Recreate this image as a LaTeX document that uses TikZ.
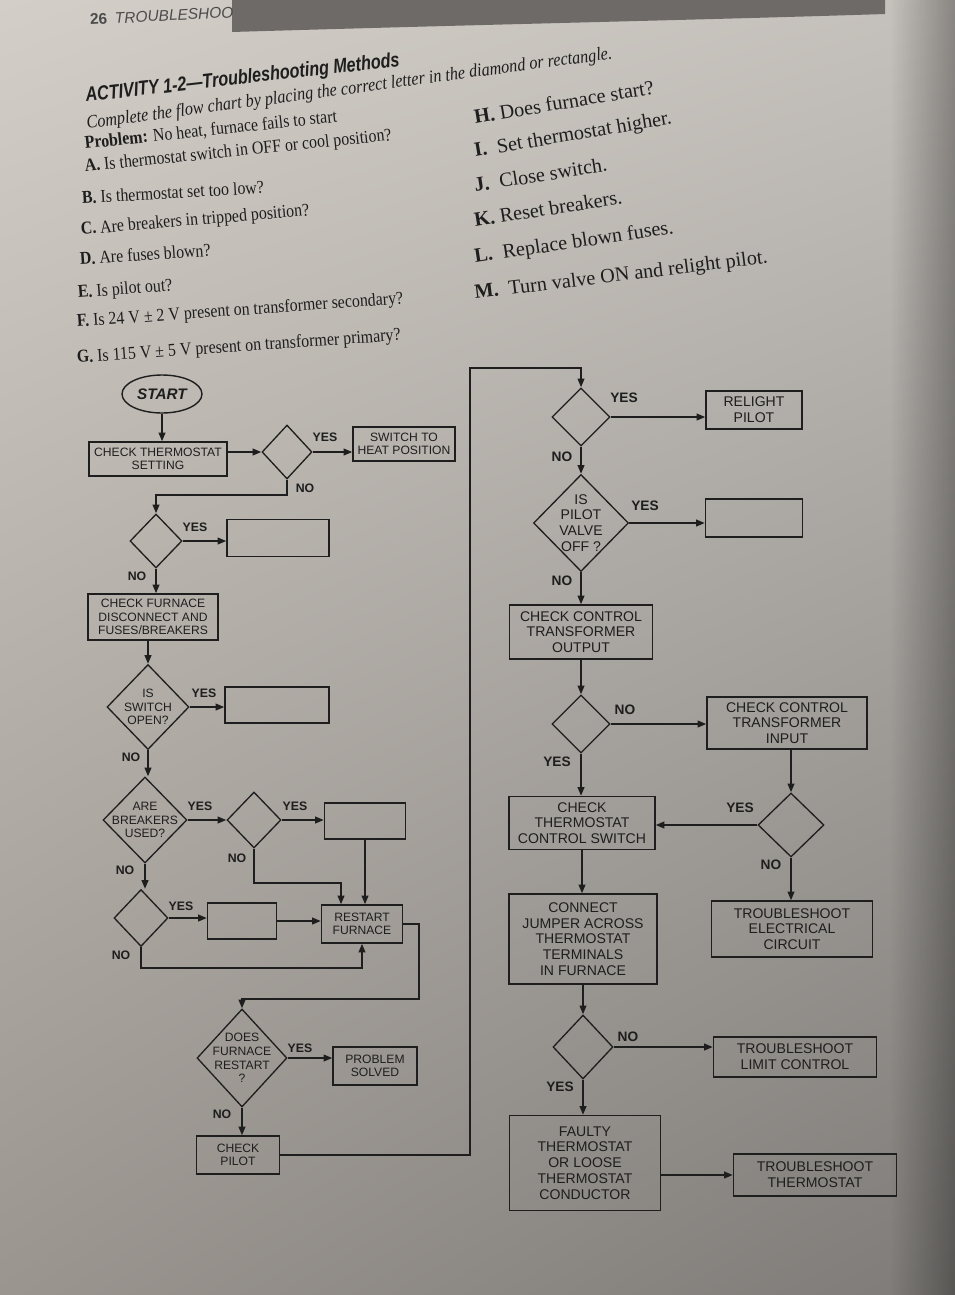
\documentclass[tikz,border=0pt]{standalone}
\usepackage{fontspec}
\setmainfont{Liberation Serif}
\setsansfont{Liberation Sans}
\newfontfamily\condserif[FakeStretch=0.88]{Liberation Serif}
\newfontfamily\titlesans[FakeStretch=0.8]{Liberation Sans}
\usetikzlibrary{shapes.geometric, arrows.meta, fadings, shadings}
\definecolor{ink}{HTML}{1E1E1E}
\definecolor{bgUL}{HTML}{D3CEC7}
\definecolor{bgUR}{HTML}{C4C0BB}
\definecolor{bgLL}{HTML}{9A958F}
\definecolor{bgLR}{HTML}{7E7B78}
\definecolor{band}{HTML}{6E6A67}
\newcommand{\lfont}{\fontsize{6.9}{7.7}\selectfont\sffamily}
\newcommand{\rfont}{\fontsize{8}{9}\selectfont\sffamily}
\tikzfading[name=myfadeR, left color=transparent!100, right color=transparent!0]
\begin{document}
\begin{tikzpicture}[x=0.02cm, y=-0.02cm,
  boxL/.style={draw=ink, line width=0.75pt, rectangle, inner sep=1pt, align=center, font=\lfont, text=ink},
  boxR/.style={draw=ink, line width=0.75pt, rectangle, inner sep=1pt, align=center, font=\rfont, text=ink},
  dia/.style={draw=ink, line width=0.75pt, diamond, inner sep=0pt},
  txtL/.style={font=\lfont, align=center, text=ink},
  txtR/.style={font=\rfont, align=center, text=ink},
  conn/.style={draw=ink, line width=1.1pt, -{Triangle[length=5pt,width=3.8pt]}},
  lblL/.style={font=\fontsize{7}{8}\selectfont\sffamily\bfseries, text=ink},
  lblR/.style={font=\fontsize{7.8}{9}\selectfont\sffamily\bfseries, text=ink},
  qL/.style={anchor=base west, font=\fontsize{10.3}{12}\selectfont\condserif, text=ink, inner sep=0pt},
  qR/.style={anchor=base west, font=\fontsize{11.5}{13}\selectfont\rmfamily, text=ink, inner sep=0pt}
]
\useasboundingbox (0,0) rectangle (955,1295);
% background
\shade[upper left=bgUL, upper right=bgUR, lower left=bgLL, lower right=bgLR] (0,0) rectangle (955,1295);
\fill[black, opacity=0.3, path fading=myfadeR] (890,0) rectangle (955,1295);
\fill[band] (232,0) -- (885,0) -- (885,14) .. controls (700,20) and (500,24) .. (232,32) -- cycle;

% header and texts
\node[anchor=base west, rotate=3, inner sep=0pt, text=ink!80, font=\fontsize{8.8}{10}\selectfont\sffamily] (hdr) at (90,25) {\textbf{26}\enspace\textit{TROUBLESHOO}};
\node[anchor=base west, rotate=6.5, inner sep=0pt, text=ink, font=\fontsize{11.5}{13}\selectfont\titlesans\bfseries\itshape] (ttl) at (86,102) {ACTIVITY 1-2—Troubleshooting Methods};
\node[anchor=base west, rotate=7.6, inner sep=0pt, text=ink, font=\fontsize{10.5}{12}\selectfont\condserif\itshape] (cmp) at (87,129) {Complete the flow chart by placing the correct letter in the diamond or rectangle.};
\node[qL, rotate=6.1] (prb) at (85,149) {\textbf{Problem:} No heat, furnace fails to start};
\node[qL, rotate=5.9] (qa) at (85,172) {\textbf{A.} Is thermostat switch in OFF or cool position?};
\node[qL, rotate=3.4] (qb) at (82,204) {\textbf{B.} Is thermostat set too low?};
\node[qL, rotate=4.9] (qc) at (81,235) {\textbf{C.} Are breakers in tripped position?};
\node[qL, rotate=3.9] (qd) at (80,265) {\textbf{D.} Are fuses blown?};
\node[qL, rotate=4.5] (qe) at (78,298) {\textbf{E.} Is pilot out?};
\node[qL, rotate=4.1] (qf) at (77,327) {\textbf{F.} Is 24 V ± 2 V present on transformer secondary?};
\node[qL, rotate=4] (qg) at (77,363) {\textbf{G.} Is 115 V ± 5 V present on transformer primary?};
\node[qR, rotate=9.5] (qh) at (475,124) {\textbf{H.} Does furnace start?};
\node[qR, rotate=9.5] (qi) at (475,157) {\textbf{I.}\enspace Set thermostat higher.};
\node[qR, rotate=9] (qj) at (475,192) {\textbf{J.}\enspace Close switch.};
\node[qR, rotate=9] (qk) at (475,227) {\textbf{K.} Reset breakers.};
\node[qR, rotate=8.5] (ql) at (475,263) {\textbf{L.}\enspace Replace blown fuses.};
\node[qR, rotate=7] (qm) at (475,299) {\textbf{M.}\enspace Turn valve ON and relight pilot.};

% ---------- left column ----------
\node[draw=ink, line width=0.8pt, ellipse, minimum width=1.6cm, minimum height=0.76cm, inner sep=0pt, text=ink, font=\fontsize{8.7}{10}\selectfont\sffamily\bfseries\itshape] (start) at (162,394) {START};
\node[boxL, minimum width=2.76cm, minimum height=0.68cm] (b1) at (158,459) {CHECK THERMOSTAT\\SETTING};
\node[dia, minimum width=1.0cm, minimum height=1.08cm] (d1) at (287,452) {};
\node[boxL, minimum width=2.04cm, minimum height=0.68cm] (b2) at (404,444) {SWITCH TO\\HEAT POSITION};
\node[dia, minimum width=1.04cm, minimum height=1.08cm] (d2) at (156,541) {};
\node[boxL, minimum width=2.04cm, minimum height=0.74cm] (e1) at (278,538) {};
\node[boxL, minimum width=2.6cm, minimum height=0.92cm] (b3) at (153,617) {CHECK FURNACE\\DISCONNECT AND\\FUSES/BREAKERS};
\node[dia, minimum width=1.64cm, minimum height=1.7cm, label={[txtL]center:{IS\\SWITCH\\OPEN?}}] (d3) at (148,707) {};
\node[boxL, minimum width=2.08cm, minimum height=0.72cm] (e2) at (277,705) {};
\node[dia, minimum width=1.68cm, minimum height=1.72cm, label={[txtL]center:{ARE\\BREAKERS\\USED?}}] (d4) at (145,820) {};
\node[dia, minimum width=1.08cm, minimum height=1.12cm] (d5) at (254,820) {};
\node[boxL, minimum width=1.62cm, minimum height=0.72cm] (e3) at (365,821) {};
\node[dia, minimum width=1.08cm, minimum height=1.14cm] (d6) at (141,918) {};
\node[boxL, minimum width=1.38cm, minimum height=0.72cm] (e4) at (242,921) {};
\node[boxL, minimum width=1.62cm, minimum height=0.76cm] (b4) at (362,924) {RESTART\\FURNACE};
\node[dia, minimum width=1.8cm, minimum height=1.96cm, label={[txtL]center:{DOES\\FURNACE\\RESTART\\?}}] (d7) at (242,1058) {};
\node[boxL, minimum width=1.68cm, minimum height=0.76cm] (b5) at (375,1066) {PROBLEM\\SOLVED};
\node[boxL, minimum width=1.66cm, minimum height=0.76cm] (b6) at (238,1155) {CHECK\\PILOT};

% ---------- right column ----------
\node[dia, minimum width=1.16cm, minimum height=1.16cm] (d8) at (581,417) {};
\node[boxR, minimum width=1.92cm, minimum height=0.76cm] (b7) at (754,410) {RELIGHT\\PILOT};
\node[dia, minimum width=1.9cm, minimum height=1.94cm, label={[txtR]center:{IS\\PILOT\\VALVE\\OFF ?}}] (d9) at (581,523) {};
\node[boxR, minimum width=1.94cm, minimum height=0.76cm] (e5) at (754,518) {};
\node[boxR, minimum width=2.86cm, minimum height=1.08cm] (b8) at (581,632) {CHECK CONTROL\\TRANSFORMER\\OUTPUT};
\node[dia, minimum width=1.16cm, minimum height=1.16cm] (d10) at (581,724) {};
\node[boxR, minimum width=3.2cm, minimum height=1.04cm] (b9) at (787,723) {CHECK CONTROL\\TRANSFORMER\\INPUT};
\node[boxR, minimum width=2.92cm, minimum height=1.06cm] (b10) at (582,823) {CHECK\\THERMOSTAT\\CONTROL SWITCH};
\node[dia, minimum width=1.32cm, minimum height=1.28cm] (d11) at (791,825) {};
\node[boxR, minimum width=3.22cm, minimum height=1.12cm] (b11) at (792,929) {TROUBLESHOOT\\ELECTRICAL\\CIRCUIT};
\node[boxR, minimum width=2.96cm, minimum height=1.8cm] (b12) at (583,939) {CONNECT\\JUMPER ACROSS\\THERMOSTAT\\TERMINALS\\IN FURNACE};
\node[dia, minimum width=1.2cm, minimum height=1.28cm] (d12) at (583,1047) {};
\node[boxR, minimum width=3.26cm, minimum height=0.8cm] (b13) at (795,1057) {TROUBLESHOOT\\LIMIT CONTROL};
\node[boxR, minimum width=3.02cm, minimum height=1.9cm] (b14) at (585,1163) {FAULTY\\THERMOSTAT\\OR LOOSE\\THERMOSTAT\\CONDUCTOR};
\node[boxR, minimum width=3.26cm, minimum height=0.84cm] (b15) at (815,1175) {TROUBLESHOOT\\THERMOSTAT};

\coordinate (bend) at (470,368);

% ---------- connectors left ----------
\draw[conn] (start.south) -- (start.south |- b1.north);
\draw[conn] (b1.east |- d1.west) -- (d1.west);
\draw[conn] (d1.east) -- (d1.east -| b2.west);
\draw[conn] (d1.south) -- ++(0,15) -| (d2.north);
\draw[conn] (d2.east) -- (d2.east -| e1.west);
\draw[conn] (d2.south) -- (d2.south |- b3.north);
\draw[conn] (d3.north |- b3.south) -- (d3.north);
\draw[conn] (d3.east) -- (d3.east -| e2.west);
\draw[conn] (d3.south) -- (d3.south |- d4.north);
\draw[conn] (d4.east) -- (d5.west);
\draw[conn] (d5.east) -- (d5.east -| e3.west);
\draw[conn] (d5.south) -- ++(0,34) -| ([xshift=-0.42cm]b4.north);
\draw[conn] (e3.south) -- (e3.south |- b4.north);
\draw[conn] (d4.south) -- (d4.south |- d6.north);
\draw[conn] (d6.east) -- (d6.east -| e4.west);
\draw[conn] (e4.east) -- (e4.east -| b4.west);
\draw[conn] (d6.south) -- ++(0,21) -| (b4.south);
\draw[conn] (b4.east) -- ++(16,0) -- ++(0,75) -| (d7.north);
\draw[conn] (d7.east) -- (d7.east -| b5.west);
\draw[conn] (d7.south) -- (d7.south |- b6.north);
\draw[conn] (b6.east) -| (bend) -| (d8.north);

% ---------- connectors right ----------
\draw[conn] (d8.east) -- (d8.east -| b7.west);
\draw[conn] (d8.south) -- (d9.north);
\draw[conn] (d9.east) -- (d9.east -| e5.west);
\draw[conn] (d9.south) -- (d9.south |- b8.north);
\draw[conn] (b8.south) -- (b8.south |- d10.north);
\draw[conn] (d10.east) -- (d10.east -| b9.west);
\draw[conn] (d10.south) -- (d10.south |- b10.north);
\draw[conn] (d11.north |- b9.south) -- (d11.north);
\draw[conn] (d11.west) -- (d11.west -| b10.east);
\draw[conn] (d11.south) -- (d11.south |- b11.north);
\draw[conn] (b10.south) -- (b10.south |- b12.north);
\draw[conn] (b12.south) -- (b12.south |- d12.north);
\draw[conn] (d12.east) -- (d12.east -| b13.west);
\draw[conn] (d12.south) -- (d12.south |- b14.north);
\draw[conn] (b14.east |- b15.west) -- (b15.west);

% ---------- YES / NO labels ----------
\node[lblL] (y1) at (325,437) {YES};
\node[lblL] (n1) at (305,488) {NO};
\node[lblL] (y2) at (195,527) {YES};
\node[lblL] (n2) at (137,576) {NO};
\node[lblL] (y3) at (204,693) {YES};
\node[lblL] (n3) at (131,757) {NO};
\node[lblL] (y4) at (200,806) {YES};
\node[lblL] (n4) at (125,870) {NO};
\node[lblL] (y5) at (295,806) {YES};
\node[lblL] (n5) at (237,858) {NO};
\node[lblL] (y6) at (181,906) {YES};
\node[lblL] (n6) at (121,955) {NO};
\node[lblL] (y7) at (300,1048) {YES};
\node[lblL] (n7) at (222,1114) {NO};
\node[lblR] (y8) at (624,398) {YES};
\node[lblR] (n8) at (562,457) {NO};
\node[lblR] (y9) at (645,506) {YES};
\node[lblR] (n9) at (562,581) {NO};
\node[lblR] (n10) at (625,710) {NO};
\node[lblR] (y10) at (557,762) {YES};
\node[lblR] (y11) at (740,808) {YES};
\node[lblR] (n11) at (771,865) {NO};
\node[lblR] (n12) at (628,1037) {NO};
\node[lblR] (y12) at (560,1087) {YES};
\end{tikzpicture}
\end{document}
